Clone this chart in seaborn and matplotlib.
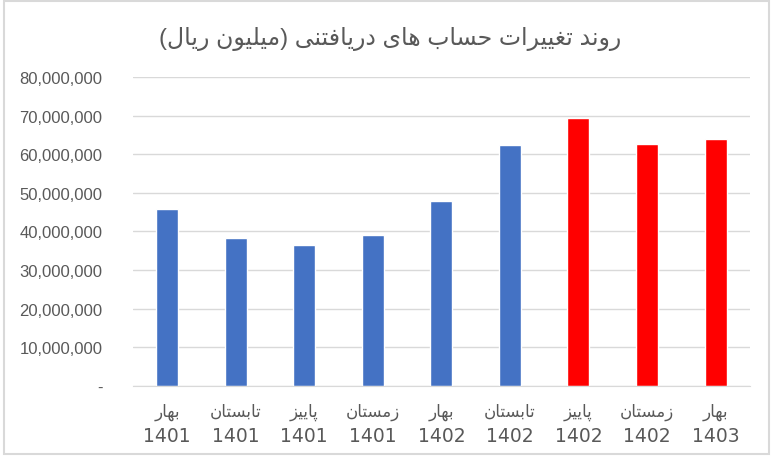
import matplotlib
matplotlib.use('Agg')
import matplotlib.pyplot as plt
import seaborn as sns
import pandas as pd
from matplotlib.patches import Rectangle
from matplotlib.ticker import FuncFormatter

# Data
title_fa = 'روند تغییرات حساب های دریافتنی (میلیون ریال)'
seasons = ['بهار', 'تابستان', 'پاییز', 'زمستان', 'بهار', 'تابستان', 'پاییز', 'زمستان', 'بهار']
years = ['1401', '1401', '1401', '1401', '1402', '1402', '1402', '1402', '1403']
values = [45.9e6, 38.3e6, 36.5e6, 39.1e6, 47.9e6, 62.4e6, 69.4e6, 62.7e6, 64.0e6]
colors = ['#4472C4'] * 6 + ['#FF0000'] * 3

# matplotlib has no Arabic shaping, so pick contextual forms by hand
# (isolated, final, initial, medial); right-joining letters have no initial/medial
FORMS = {
    'ا': ('\uFE8D', '\uFE8E', None, None),
    'ب': ('\uFE8F', '\uFE90', '\uFE91', '\uFE92'),
    'پ': ('\uFB56', '\uFB57', '\uFB58', '\uFB59'),
    'ت': ('\uFE95', '\uFE96', '\uFE97', '\uFE98'),
    'ح': ('\uFEA1', '\uFEA2', '\uFEA3', '\uFEA4'),
    'د': ('\uFEA9', '\uFEAA', None, None),
    'ر': ('\uFEAD', '\uFEAE', None, None),
    'ز': ('\uFEAF', '\uFEB0', None, None),
    'س': ('\uFEB1', '\uFEB2', '\uFEB3', '\uFEB4'),
    'غ': ('\uFECD', '\uFECE', '\uFECF', '\uFED0'),
    'ف': ('\uFED1', '\uFED2', '\uFED3', '\uFED4'),
    'ل': ('\uFEDD', '\uFEDE', '\uFEDF', '\uFEE0'),
    'م': ('\uFEE1', '\uFEE2', '\uFEE3', '\uFEE4'),
    'ن': ('\uFEE5', '\uFEE6', '\uFEE7', '\uFEE8'),
    'ه': ('\uFEE9', '\uFEEA', '\uFEEB', '\uFEEC'),
    'و': ('\uFEED', '\uFEEE', None, None),
    'ی': ('\uFBFC', '\uFBFD', '\uFBFE', '\uFBFF'),
}


def shape(text):
    out = []
    for i, ch in enumerate(text):
        if ch not in FORMS:
            out.append(ch)
            continue
        prev = text[i - 1] if i > 0 else ''
        nxt = text[i + 1] if i + 1 < len(text) else ''
        join_prev = prev in FORMS and FORMS[prev][2] is not None
        join_next = nxt in FORMS and FORMS[ch][2] is not None
        iso, fin, ini, med = FORMS[ch]
        if join_prev and join_next:
            out.append(med)
        elif join_prev:
            out.append(fin)
        elif join_next:
            out.append(ini)
        else:
            out.append(iso)
    vis = ''.join(reversed(out))
    return vis.translate(str.maketrans('()', ')('))


periods = [s + ' ' + y for s, y in zip(seasons, years)]
df = pd.DataFrame({'period': periods, 'value': values})

sns.set_style('white')
plt.rcParams['font.family'] = ['Liberation Sans', 'DejaVu Sans']

fig = plt.figure(figsize=(7.73, 4.6), dpi=100)
ax = fig.add_axes([0.172, 0.1587, 0.798, 0.672])

sns.barplot(data=df, x='period', y='value', hue='period', palette=colors,
            width=0.32, saturation=1, legend=False, ax=ax)

ax.set_xlim(-0.5, len(periods) - 0.5)
ax.set_ylim(0, 80e6)
ax.set_yticks(range(0, 80000001, 10000000))
ax.yaxis.set_major_formatter(FuncFormatter(lambda v, p: '-' if v == 0 else f'{v:,.0f}'))
ax.set_xlabel('')
ax.set_ylabel('')

ax.yaxis.grid(True, color='#d9d9d9', lw=1)
ax.set_axisbelow(True)
for s in ['left', 'right', 'top']:
    ax.spines[s].set_visible(False)
ax.spines['bottom'].set_color('#d9d9d9')

# years as tick labels, season names on a line above them
ax.set_xticks(range(len(periods)))
ax.set_xticklabels(years, family=['Liberation Sans Narrow', 'DejaVu Sans'], fontsize=13.5)
ax.tick_params(axis='both', length=0, colors='#595959')
ax.tick_params(axis='y', labelsize=12, pad=22)
ax.tick_params(axis='x', pad=29)
for i, s in enumerate(seasons):
    ax.annotate(shape(s), xy=(i, 0), xycoords=('data', 'axes fraction'),
                xytext=(0, -18), textcoords='offset points', ha='center', va='center',
                fontsize=12, color='#595959')

fig.text(0.505, 0.915, shape(title_fa), ha='center', va='center',
         fontsize=17, color='#595959')

fig.patches.append(Rectangle((0.005, 0.01), 0.99, 0.985, transform=fig.transFigure,
                             fill=False, edgecolor='#d9d9d9', lw=1.5))

fig.savefig('out.png', dpi=100)
